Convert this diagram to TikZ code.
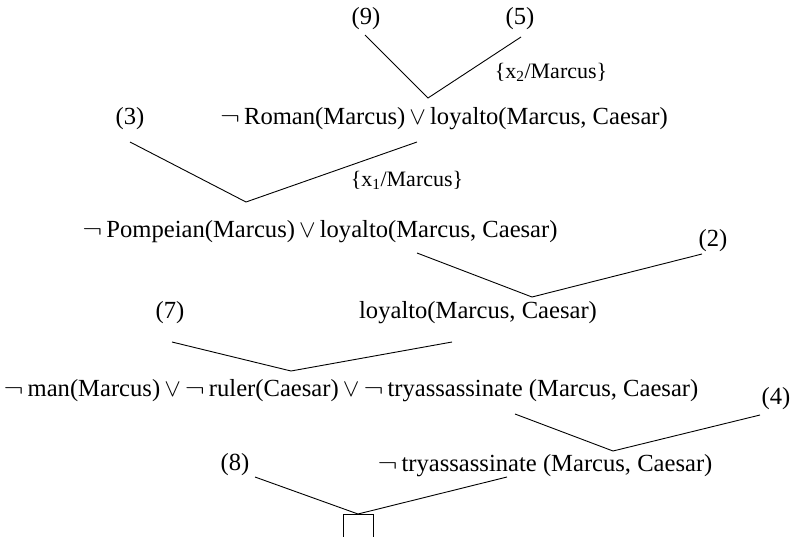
\documentclass[tikz,border=0pt]{standalone}
\usepackage{graphicx}
\usepackage{fontspec}
\setmainfont{Liberation Serif}
% logical connectives with the spacing used in the clauses
\newcommand{\clnot}{\scalebox{1.2}[1]{$\neg$}\,}
\newcommand{\clor}{\,$\vee$\,}
\begin{document}
\begin{tikzpicture}[x=1pt,y=-1pt,
  clause/.style={inner sep=0pt,anchor=center,font=\fontsize{24.6}{28}\selectfont},
  subst/.style={inner sep=0pt,anchor=center,font=\fontsize{22}{26}\selectfont},
  link/.style={draw,line width=0.9pt}]
\useasboundingbox (0,0) rectangle (800,536);
% clauses and parent labels
\node[clause] (n9) at (366,19) {(9)};
\node[clause] (n5) at (520,19) {(5)};
\node[subst]  (s2) at (551,72) {\{x\textsubscript{2}/Marcus\}};
\node[clause] (r1) at (444,119) {\clnot Roman(Marcus)\clor loyalto(Marcus, Caesar)};
\node[clause] (n3) at (130,119) {(3)};
\node[subst]  (s1) at (407,180) {\{x\textsubscript{1}/Marcus\}};
\node[clause] (r2) at (320,232) {\clnot Pompeian(Marcus)\clor loyalto(Marcus, Caesar)};
\node[clause] (n2) at (713,241) {(2)};
\node[clause] (r3) at (478,313) {loyalto(Marcus, Caesar)};
\node[clause] (n7) at (170,313) {(7)};
\node[clause] (r4) at (351,391) {\clnot man(Marcus)\clor\clnot ruler(Caesar)\clor\clnot tryassassinate (Marcus, Caesar)};
\node[clause] (n4) at (776,399) {(4)};
\node[clause] (n8) at (235,465) {(8)};
\node[clause] (r5) at (545,466) {\clnot tryassassinate (Marcus, Caesar)};
\node[draw,line width=0.9pt,minimum width=30pt,minimum height=28pt,inner sep=0pt,anchor=north] (empty) at (358,514) {};
% resolution step endpoints
\coordinate (a9) at (365,35);  \coordinate (v1) at (428,98);  \coordinate (a5) at (521,37);
\coordinate (a3) at (130,142); \coordinate (v2) at (246,202); \coordinate (ar1) at (417,142);
\coordinate (ar2) at (417,253); \coordinate (v3) at (532,297); \coordinate (a2) at (702,254);
\coordinate (a7) at (172,342); \coordinate (v4) at (291,371); \coordinate (ar3) at (452,342);
\coordinate (ar4) at (515,414); \coordinate (v5) at (613,451); \coordinate (a4) at (760,415);
\coordinate (a8) at (255,477); \coordinate (ar5) at (507,477);
% resolution steps
\draw[link] (a9) -- (v1) -- (a5);
\draw[link] (a3) -- (v2) -- (ar1);
\draw[link] (ar2) -- (v3) -- (a2);
\draw[link] (a7) -- (v4) -- (ar3);
\draw[link] (ar4) -- (v5) -- (a4);
\draw[link] (a8) -- (empty.north) -- (ar5);
\end{tikzpicture}
\end{document}
